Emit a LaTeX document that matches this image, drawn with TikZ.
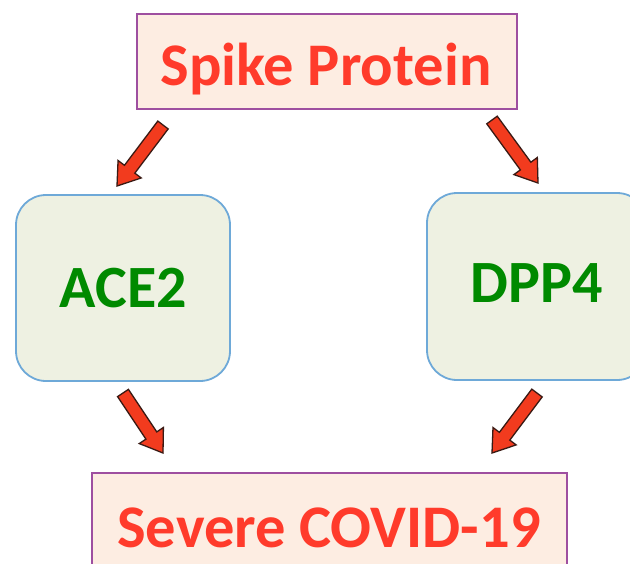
\documentclass[tikz,border=0pt]{standalone}
\usepackage{fontspec}
\setmainfont{Carlito}
\usetikzlibrary{calc}
\definecolor{txtred}{HTML}{FF3B2B}
\definecolor{peach}{HTML}{FDEDE2}
\definecolor{purp}{HTML}{9E4FA0}
\definecolor{txtgreen}{HTML}{008A00}
\definecolor{pale}{HTML}{EEF1E2}
\definecolor{bluebd}{HTML}{6EA9D8}
\definecolor{arrred}{HTML}{F23B1E}
\definecolor{arrline}{HTML}{3A1A14}
\newcommand\myblockarrow[2]{%
  \coordinate (hb) at ($(#2)!21pt!(#1)$);
  \fill[arrred, draw=arrline, line width=1.3pt, line join=miter]
    ($(#1)!6.5pt!90:(#2)$) -- ($(hb)!6.5pt!90:(#2)$) --
    ($(hb)!14.5pt!90:(#2)$) -- (#2) --
    ($(hb)!14.5pt!-90:(#2)$) -- ($(hb)!6.5pt!-90:(#2)$) --
    ($(#1)!6.5pt!-90:(#2)$) -- cycle;}
\tikzset{
  redbox/.style={draw=purp, fill=peach, line width=2pt, inner sep=0pt},
  greenbox/.style={draw=bluebd, fill=pale, line width=1.8pt, rounded corners=30pt, inner sep=0pt},
  redtxt/.style={text=txtred, font=\fontsize{60.5}{62}\selectfont\bfseries, anchor=base, inner sep=0pt},
  greentxt/.style={text=txtgreen, font=\fontsize{60}{62}\selectfont\bfseries, anchor=base, inner sep=0pt}
}
\begin{document}
\begin{tikzpicture}[x=1pt,y=-1pt]
\useasboundingbox (0,0) rectangle (630,563);
\clip (0,0) rectangle (630,563);
\fill[white] (0,0) rectangle (630,563);
\node[redbox, minimum width=380pt, minimum height=95pt] (spikebox) at (327,61.5) {};
\node[redbox, minimum width=475pt, minimum height=127pt] (covidbox) at (329.5,536.5) {};
\node[greenbox, minimum width=214pt, minimum height=186pt] (acebox) at (123,288) {};
\node[greenbox, minimum width=220pt, minimum height=187pt] (dppbox) at (537,286.5) {};
\node[redtxt] (spike) at (326,85) {Spike Protein};
\node[redtxt] (covid) at (329,547) {Severe COVID-19};
\node[greentxt] (ace) at (123.5,307) {ACE2};
\node[greentxt] (dpp) at (537,302) {DPP4};
\coordinate (a1) at (163,125); \coordinate (b1) at (117,186);
\coordinate (a2) at (492,120); \coordinate (b2) at (538,183);
\coordinate (a3) at (123,393); \coordinate (b3) at (163,453);
\coordinate (a4) at (537,393); \coordinate (b4) at (492,453);
\myblockarrow{a1}{b1}
\myblockarrow{a2}{b2}
\myblockarrow{a3}{b3}
\myblockarrow{a4}{b4}
\end{tikzpicture}
\end{document}
